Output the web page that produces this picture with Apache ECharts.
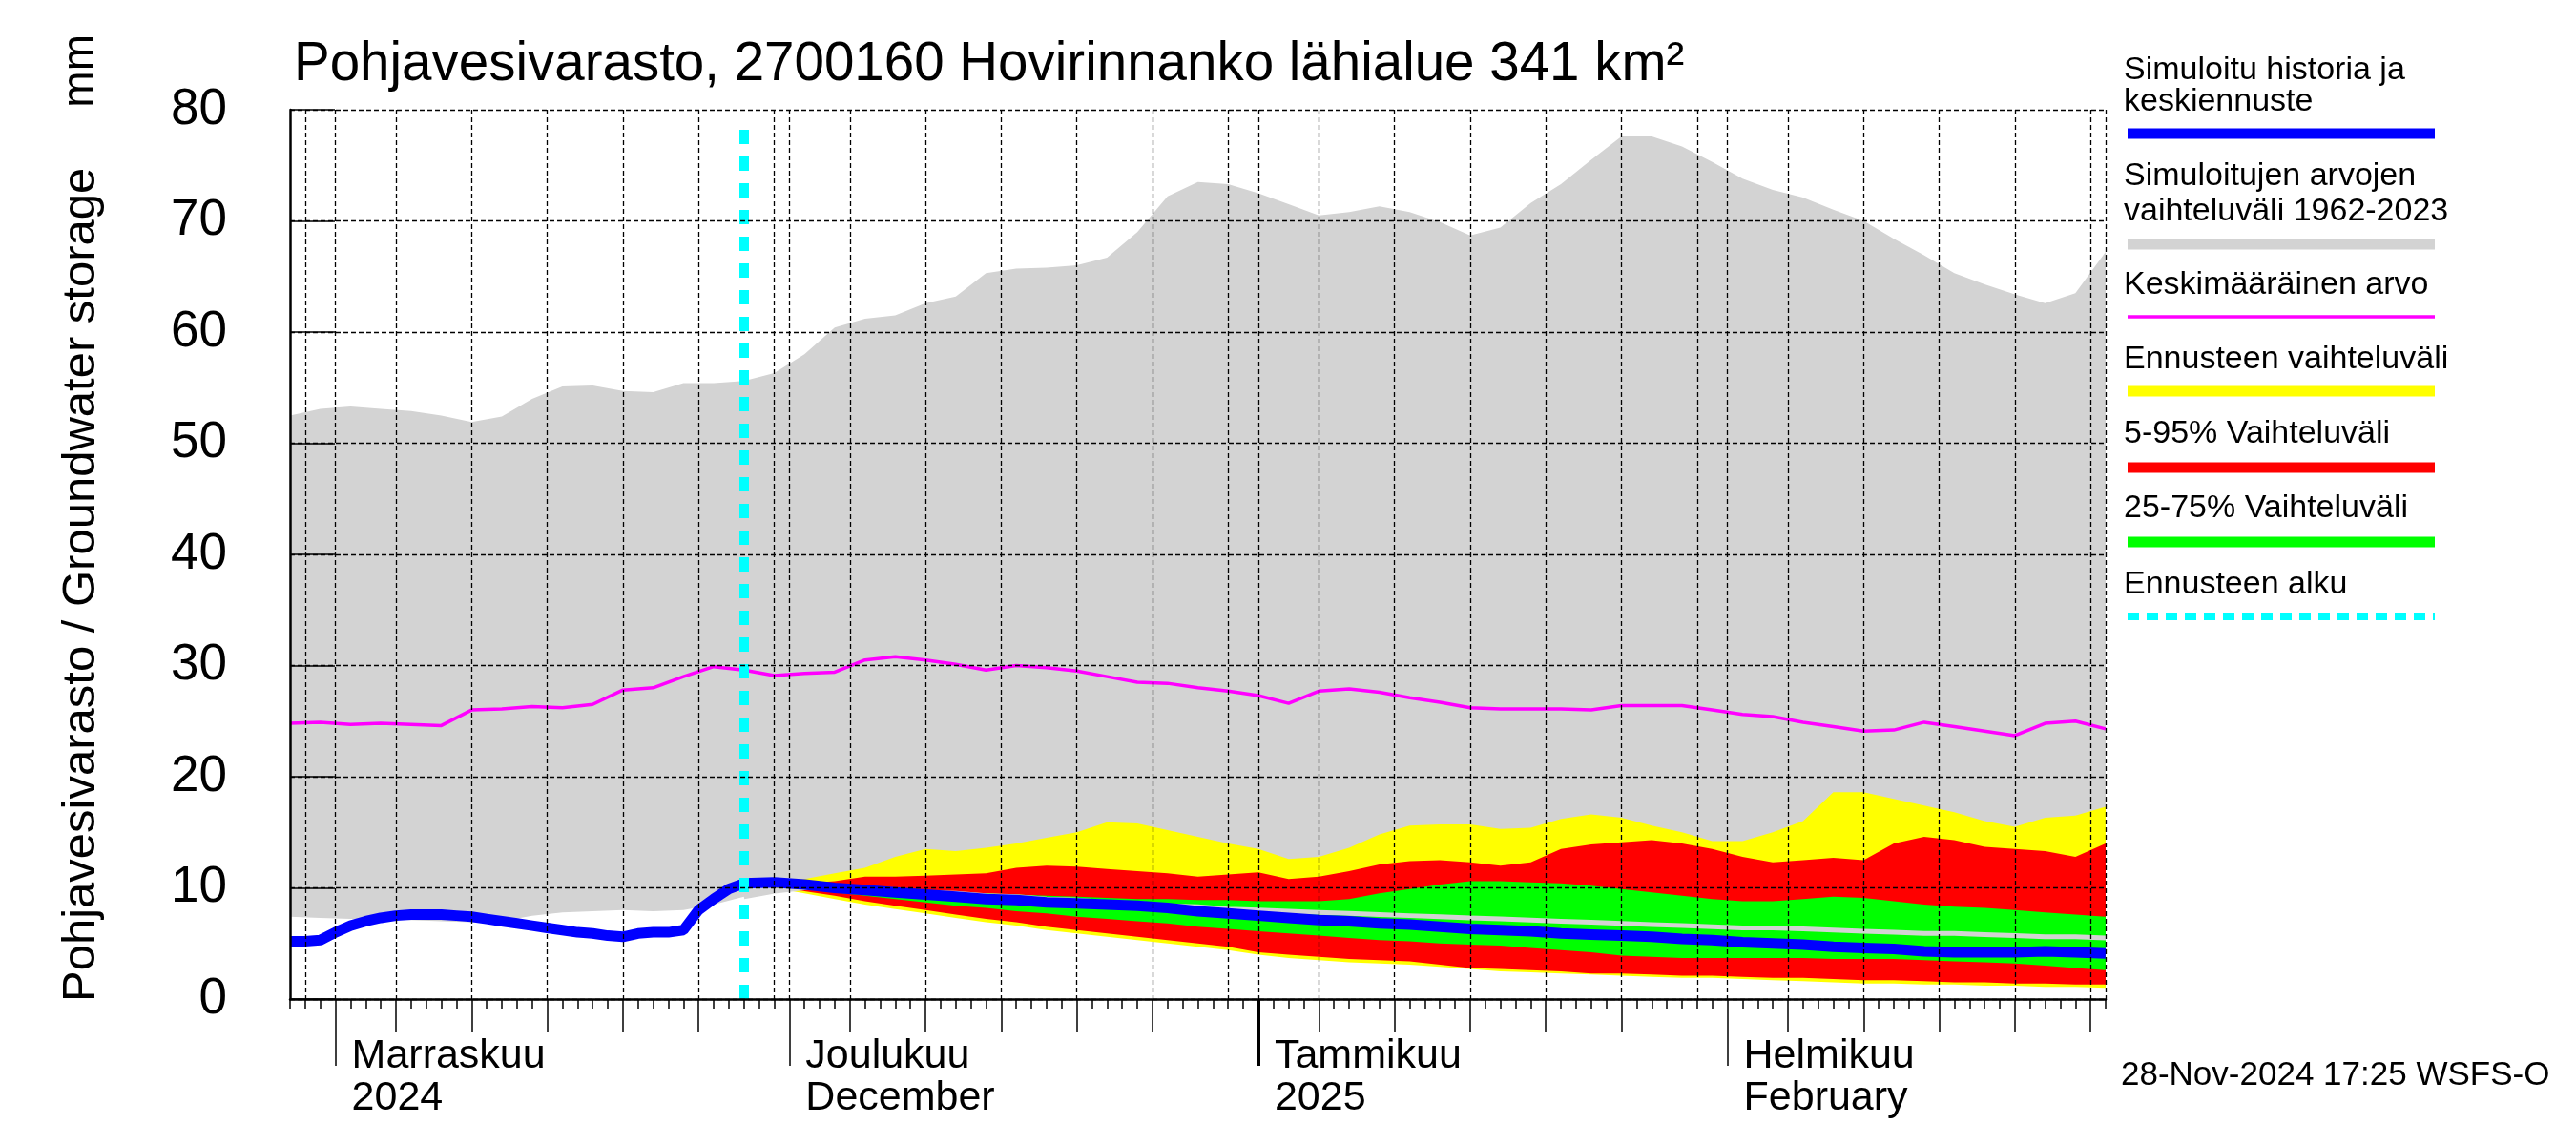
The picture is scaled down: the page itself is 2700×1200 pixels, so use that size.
<!DOCTYPE html>
<html><head><meta charset="utf-8">
<script src="https://cdn.jsdelivr.net/npm/echarts@6/dist/echarts.min.js"></script>
<style>html,body{margin:0;padding:0;background:#fff}#c{width:2700px;height:1200px}</style>
</head><body><div id="c"></div>
<script>
// ---------- data ----------
const startYear = 2024, startMonth = 9, startDay = 29;   // 29-Oct-2024
const dayCount = 121;                                    // through 26-Feb-2025
const monthLabels = {
  '2024-11': 'Marraskuu\n2024',
  '2024-12': 'Joulukuu\nDecember',
  '2025-01': 'Tammikuu\n2025',
  '2025-02': 'Helmikuu\nFebruary'
};
const forecastStart = '2024-11-28';

const histDays = [0,1,2,3,4,5,6,7,8,9,10,11,12,13,14,15,16,17,18,19,20,21,22,23,24,25,26,27,28,29];
const blueHist = [5.2,5.2,5.3,6.0,6.6,7.0,7.3,7.5,7.6,7.6,7.6,7.5,7.4,7.2,7.0,6.8,6.6,6.4,6.2,6.0,5.9,5.7,5.6,5.9,6.0,6.0,6.2,8.0,9.0,9.9];

const bandDays = [0,2,4,6,8,10,12,14,16,18,20,22,24,26,28,30,32,34,36,38,40,42,44,46,48,50,52,54,56,58,60,62,64,66,68,70,72,74,76,78,80,82,84,86,88,90,92,94,96,98,100,102,104,106,108,110,112,114,116,118,120];
const greyUpper = [52.5,53.1,53.3,53.1,52.9,52.5,51.9,52.4,54.0,55.1,55.2,54.7,54.6,55.4,55.4,55.6,56.3,58.0,60.4,61.2,61.5,62.6,63.2,65.3,65.7,65.8,66.0,66.7,69.0,72.2,73.5,73.3,72.5,71.5,70.5,70.8,71.3,70.8,69.9,68.7,69.4,71.6,73.3,75.5,77.6,77.6,76.7,75.3,73.8,72.8,72.1,71.0,70.0,68.4,66.9,65.3,64.3,63.4,62.6,63.5,67.2];
const greyLower = [7.4,7.3,7.2,7.2,7.1,7.0,6.9,7.0,7.5,7.8,7.9,8.0,7.9,8.0,8.5,9.2,9.7,10.0,10.1,10.0,9.8,9.6,9.5,9.3,9.2,9.0,8.9,8.7,8.6,8.4,8.3,8.1,8.0,7.9,7.8,7.7,7.6,7.5,7.4,7.3,7.2,7.1,7.0,6.9,6.8,6.7,6.6,6.5,6.4,6.4,6.3,6.2,6.1,6.0,5.9,5.9,5.8,5.7,5.6,5.6,5.5];
const meanValues = [24.8,24.9,24.7,24.8,24.7,24.6,26.0,26.1,26.3,26.2,26.5,27.8,28.0,29.0,29.9,29.6,29.1,29.3,29.4,30.5,30.8,30.5,30.1,29.6,30.0,29.8,29.5,29.0,28.5,28.4,28.0,27.7,27.3,26.6,27.7,27.9,27.6,27.1,26.7,26.2,26.1,26.1,26.1,26.0,26.4,26.4,26.4,26.0,25.6,25.4,24.9,24.5,24.1,24.2,24.9,24.5,24.1,23.7,24.8,25.0,24.3];

const fcDays = [30,32,34,36,38,40,42,44,46,48,50,52,54,56,58,60,62,64,66,68,70,72,74,76,78,80,82,84,86,88,90,92,94,96,98,100,102,104,106,108,110,112,114,116,118,120];
const fcMax = [10.5,10.6,10.8,11.3,11.8,12.8,13.5,13.3,13.6,14.0,14.5,15.0,15.9,15.8,15.2,14.6,14.0,13.5,12.6,12.8,13.6,14.8,15.6,15.7,15.7,15.3,15.4,16.2,16.6,16.3,15.6,15.0,14.2,14.2,15.0,16.0,18.6,18.6,18.0,17.4,16.8,16.0,15.5,16.3,16.5,17.3];
const fcP95 = [10.4,10.4,10.4,10.6,11.0,11.0,11.1,11.2,11.3,11.8,12.0,11.9,11.7,11.5,11.3,11.0,11.2,11.4,10.8,11.0,11.5,12.1,12.4,12.5,12.3,12.0,12.3,13.5,13.9,14.1,14.3,14.0,13.5,12.8,12.3,12.5,12.7,12.5,14.0,14.6,14.3,13.7,13.5,13.3,12.8,14.0];
const fcP75 = [10.4,10.3,10.2,10.1,9.9,9.8,9.7,9.6,9.5,9.4,9.3,9.2,9.1,9.0,9.0,8.9,8.9,8.8,8.8,8.8,9.0,9.5,9.9,10.3,10.6,10.6,10.5,10.4,10.2,9.9,9.6,9.3,9.0,8.8,8.8,9.0,9.2,9.1,8.8,8.5,8.3,8.2,8.0,7.8,7.6,7.4];
const fcMedian = [10.4,10.5,10.3,10.0,9.8,9.6,9.4,9.2,9.0,8.9,8.7,8.6,8.5,8.4,8.2,7.9,7.7,7.5,7.3,7.1,7.0,6.8,6.7,6.5,6.3,6.2,6.1,5.9,5.8,5.7,5.6,5.4,5.3,5.1,5.0,4.9,4.7,4.6,4.5,4.3,4.2,4.2,4.2,4.3,4.2,4.1];
const fcP25 = [10.4,10.2,9.9,9.6,9.3,9.0,8.7,8.4,8.2,7.9,7.7,7.4,7.2,7.0,6.8,6.5,6.3,6.1,5.9,5.7,5.5,5.3,5.2,5.0,4.9,4.8,4.6,4.4,4.2,3.9,3.8,3.7,3.7,3.7,3.7,3.7,3.6,3.6,3.6,3.5,3.4,3.3,3.2,3.0,2.8,2.6];
const fcP5 = [10.4,10.1,9.7,9.3,8.8,8.4,8.0,7.6,7.2,6.9,6.5,6.2,5.9,5.6,5.3,5.0,4.7,4.2,4.0,3.8,3.6,3.5,3.4,3.1,2.8,2.7,2.6,2.5,2.3,2.3,2.2,2.1,2.1,2.0,1.9,1.9,1.8,1.7,1.7,1.6,1.5,1.5,1.4,1.4,1.3,1.3];
const fcMin = [10.4,10.0,9.5,9.0,8.5,8.1,7.7,7.3,6.9,6.6,6.2,5.9,5.6,5.3,5.0,4.7,4.4,4.0,3.7,3.5,3.3,3.2,3.1,2.9,2.7,2.5,2.4,2.3,2.2,2.1,2.0,1.9,1.9,1.8,1.7,1.6,1.5,1.4,1.4,1.3,1.3,1.2,1.2,1.1,1.1,1.0];

const legendItems = [
  {text: 'Simuloitu historia ja\nkeskiennuste', color: '#0000ff', width: 11, dash: null},
  {text: 'Simuloitujen arvojen\nvaihteluväli 1962-2023', color: '#d3d3d3', width: 11, dash: null},
  {text: 'Keskimääräinen arvo', color: '#ff00ff', width: 3.5, dash: null},
  {text: 'Ennusteen vaihteluväli', color: '#ffff00', width: 11, dash: null},
  {text: '5-95% Vaihteluväli', color: '#ff0000', width: 11, dash: null},
  {text: '25-75% Vaihteluväli', color: '#00ff00', width: 11, dash: null},
  {text: 'Ennusteen alku', color: '#00ffff', width: 8, dash: [12, 8]}
];

// ---------- build ----------
const FONT = 'Liberation Sans, Arial, Helvetica, sans-serif';
const pad = n => (n < 10 ? '0' : '') + n;
const cats = [];
for (let i = 0; i < dayCount; i++) {
  const d = new Date(Date.UTC(startYear, startMonth, startDay + i));
  cats.push(d.getUTCFullYear() + '-' + pad(d.getUTCMonth() + 1) + '-' + pad(d.getUTCDate()));
}
const dom = v => parseInt(String(v).slice(8), 10);
const pairs = (days, vals) => days.map((d, i) => [d, vals[i]]);
const diff = (hi, lo) => hi.map((v, i) => +(v - lo[i]).toFixed(3));

function band(id, days, lo, hi, color) {
  return [
    {type: 'line', stack: id, data: pairs(days, lo), symbol: 'none', silent: true,
     lineStyle: {opacity: 0}, animation: false},
    {type: 'line', stack: id, data: pairs(days, diff(hi, lo)), symbol: 'none', silent: true,
     lineStyle: {opacity: 0}, areaStyle: {color: color, opacity: 1}, animation: false}
  ];
}

const blueDays = histDays.concat(fcDays);
const blueVals = blueHist.concat(fcMedian);
const lowerLineDays = bandDays.filter(d => d >= 30);
const lowerLineVals = greyLower.filter((v, i) => bandDays[i] >= 30);

const tickStyle = {color: '#000', width: 1.5};
const baseX = {type: 'category', data: cats, boundaryGap: false, gridIndex: 0, position: 'bottom', z: 10};

const series = [].concat(
  band('grey', bandDays, greyLower, greyUpper, '#d3d3d3'),
  band('yel', fcDays, fcMin, fcMax, '#ffff00'),
  band('red', fcDays, fcP5, fcP95, '#ff0000'),
  band('grn', fcDays, fcP25, fcP75, '#00ff00'),
  [
    {type: 'line', data: pairs(lowerLineDays, lowerLineVals), symbol: 'none', silent: true,
     lineStyle: {color: '#d3d3d3', width: 5}, animation: false},
    {type: 'line', data: pairs(bandDays, meanValues), symbol: 'none', silent: true,
     lineStyle: {color: '#ff00ff', width: 3.5}, animation: false},
    {type: 'line', data: pairs(blueDays, blueVals), symbol: 'none', silent: true,
     lineStyle: {color: '#0000ff', width: 11}, animation: false,
     markLine: {silent: true, symbol: 'none', label: {show: false}, animation: false,
       lineStyle: {color: '#00ffff', width: 10, type: [15, 13]},
       data: [[{xAxis: forecastStart, yAxis: 0}, {xAxis: forecastStart, yAxis: 79.2}]]}}
  ]
);

const graphic = [];
graphic.push({type: 'text', x: 308, y: 68, z: 100,
  style: {text: 'Pohjavesivarasto, 2700160 Hovirinnanko lähialue 341 km²', fontSize: 56.5, fontFamily: FONT,
          fill: '#000', align: 'left', verticalAlign: 'middle'}});
graphic.push({type: 'text', x: 85, y: 1050, rotation: Math.PI / 2, z: 100,
  style: {text: 'Pohjavesivarasto / Groundwater storage', fontSize: 49, fontFamily: FONT,
          fill: '#000', align: 'left', verticalAlign: 'middle'}});
graphic.push({type: 'text', x: 84, y: 36, rotation: Math.PI / 2, z: 100,
  style: {text: 'mm', fontSize: 46, fontFamily: FONT, fill: '#000', align: 'right', verticalAlign: 'middle'}});
graphic.push({type: 'text', x: 2223, y: 1127, z: 100,
  style: {text: '28-Nov-2024 17:25 WSFS-O', fontSize: 35, fontFamily: FONT, fill: '#000',
          align: 'left', verticalAlign: 'middle'}});

const legendTextY = [[74, 107], [185, 222], [299], [377], [455], [533], [613]];
const legendLineY = [140, 256, 332, 410, 490, 568, 646];
legendItems.forEach((it, k) => {
  it.text.split('\n').forEach((t, j) => {
    graphic.push({type: 'text', x: 2226, y: legendTextY[k][j], z: 100,
      style: {text: t, fontSize: 34, fontFamily: FONT, fill: '#000', align: 'left', verticalAlign: 'middle'}});
  });
  graphic.push({type: 'line', z: 100,
    shape: {x1: 2230, y1: legendLineY[k], x2: 2552, y2: legendLineY[k]},
    style: {stroke: it.color, lineWidth: it.width, lineDash: it.dash || null}});
});

const option = {
  backgroundColor: '#fff',
  animation: false,
  grid: {left: 304, right: 493, top: 115, bottom: 153, containLabel: false, outerBoundsMode: 'none'},
  xAxis: [
    Object.assign({}, baseX, {
      axisLine: {show: true, lineStyle: {color: '#000', width: 2.5}},
      axisTick: {show: true, interval: 0, length: 10, lineStyle: tickStyle},
      axisLabel: {show: false},
      splitLine: {show: true, interval: (i, v) => [1, 5, 10, 15, 20, 25, 30].includes(dom(v)) || i === dayCount - 1,
                  lineStyle: {color: '#000', type: [5, 3], width: 1.3}}
    }),
    Object.assign({}, baseX, {
      axisLine: {show: false},
      axisTick: {show: true, interval: (i, v) => [5, 10, 15, 20, 25].includes(dom(v)), length: 35, lineStyle: tickStyle},
      axisLabel: {show: false}, splitLine: {show: false}
    }),
    Object.assign({}, baseX, {
      axisLine: {show: false},
      axisTick: {show: true, interval: (i, v) => dom(v) === 1, length: 70, lineStyle: tickStyle},
      axisLabel: {show: true, interval: (i, v) => dom(v) === 1,
                  formatter: v => monthLabels[String(v).slice(0, 7)] || '',
                  align: 'left', verticalAlign: 'top', padding: [0, 0, 0, 17], margin: 38,
                  fontSize: 43, lineHeight: 44, color: '#000', fontFamily: FONT},
      splitLine: {show: false}
    }),
    Object.assign({}, baseX, {
      axisLine: {show: false},
      axisTick: {show: true, interval: (i, v) => String(v).slice(5) === '01-01', length: 70,
                 lineStyle: {color: '#000', width: 4}},
      axisLabel: {show: false}, splitLine: {show: false}
    })
  ],
  yAxis: {
    type: 'value', min: 0, max: 80, interval: 10, z: 10,
    axisLine: {show: true, lineStyle: {color: '#000', width: 2.5}},
    axisTick: {show: true, inside: true, length: 47, lineStyle: tickStyle},
    axisLabel: {fontSize: 53, color: '#000', margin: 66, fontFamily: FONT},
    splitLine: {show: true, lineStyle: {color: '#000', type: [5, 3], width: 1.3}}
  },
  series: series,
  graphic: graphic
};

const chart = echarts.init(document.getElementById('c'), null, {renderer: 'canvas'});
chart.setOption(option);
</script>
</body></html>
